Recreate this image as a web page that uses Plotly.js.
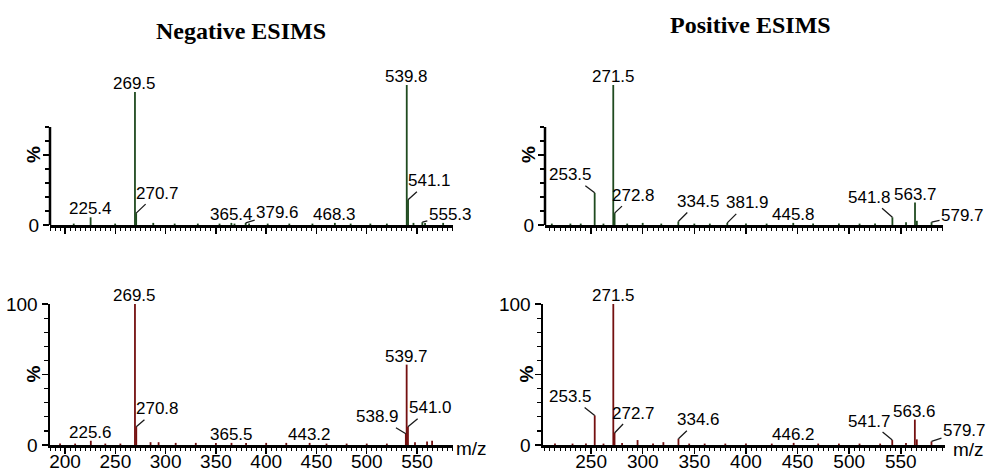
<!DOCTYPE html>
<html>
<head>
<meta charset="utf-8">
<script src="https://cdn.plot.ly/plotly-3.0.1.min.js"></script>
<style>html,body{margin:0;padding:0;background:#fff;}#chart{width:988px;height:473px;}</style>
</head>
<body>
<div id="chart"></div>
<script>
// ---------- DATA (m/z, relative intensity %) ----------
// Negative ESIMS, upper trace (green)
const negTopMz  = [208.6, 225.4, 249.8, 269.5, 270.7, 287.7, 309.0, 332.0, 353.6, 365.4, 368.5, 379.6, 383.0, 401.5, 423.0, 446.0, 468.3, 484.0, 503.6, 520.0, 539.8, 541.1, 546.5, 555.3, 558.0, 576.0];
const negTopInt = [1.0, 5.5, 1.0, 95, 8.5, 1.5, 1.0, 1.0, 1.0, 1.5, 1.0, 1.5, 1.0, 1.0, 1.0, 1.0, 1.5, 1.0, 1.0, 1.0, 100, 18, 1.5, 2.0, 1.5, 1.5];
const negTopLabels = [225.4, 269.5, 270.7, 365.4, 379.6, 468.3, 539.8, 541.1, 555.3];

// Positive ESIMS, upper trace (green)
const posTopMz  = [212, 230, 240, 253.5, 262, 271.5, 272.8, 285, 300, 318, 334.5, 350, 365, 381.9, 400, 420, 445.8, 465, 490, 510, 525, 541.8, 555, 563.7, 565.5, 579.7];
const posTopInt = [1.0, 1.0, 1.0, 23, 1.0, 100, 8.5, 1.0, 1.5, 1.0, 2.5, 1.0, 1.0, 1.5, 1.0, 1.0, 1.5, 1.0, 1.0, 1.0, 1.0, 5.5, 2.0, 16, 3.0, 2.0];
const posTopLabels = [253.5, 271.5, 272.8, 334.5, 381.9, 445.8, 541.8, 563.7, 579.7];

// Negative ESIMS, lower trace (red)
const negBotMz  = [195, 210, 225.6, 240, 255, 269.5, 270.8, 285, 293, 310, 330, 350, 365.5, 380, 400, 420, 443.2, 460, 480, 500, 520, 538.9, 539.7, 541.0, 548, 560, 565];
const negBotInt = [1.0, 1.0, 3.0, 1.0, 1.0, 100, 13, 2.0, 2.0, 1.5, 1.5, 1.5, 1.5, 1.5, 1.5, 1.5, 1.5, 1.0, 1.0, 1.0, 1.0, 8.0, 57, 13, 2.0, 2.5, 3.0];
const negBotLabels = [225.6, 269.5, 270.8, 365.5, 443.2, 538.9, 539.7, 541.0];

// Positive ESIMS, lower trace (red)
const posBotMz  = [215, 232, 245, 253.5, 262, 271.5, 272.7, 280, 295, 310, 320, 334.6, 345, 360, 380, 400, 425, 446.2, 470, 490, 510, 530, 541.7, 555, 563.6, 565.5, 579.7];
const posBotInt = [1.0, 1.0, 1.0, 21, 1.0, 100, 8.5, 1.5, 3.5, 1.0, 2.0, 4.5, 1.0, 1.0, 1.0, 1.0, 1.0, 1.5, 1.0, 1.0, 1.0, 1.0, 3.5, 1.5, 18, 4.0, 2.5];
const posBotLabels = [253.5, 271.5, 272.7, 334.6, 446.2, 541.7, 563.6, 579.7];

const xTickStep = 50;
const panelTitles = ["Negative ESIMS", "Positive ESIMS"];
const xAxisTitle = "m/z";
const yAxisTitle = "%";

// ---------- STYLE / PLACEMENT ----------
const W = 988, H = 473;
const fx = p => p / W;
const fy = p => (H - p) / H;
const GREEN = "#1f4a1f", RED = "#741010";
const LBL_FONT = {family: "Liberation Sans, Arial, sans-serif", size: 17, color: "#000"};
const TICK_FONT = {family: "Liberation Sans, Arial, sans-serif", size: 19, color: "#000"};

// label leader offsets in pixels (text centre relative to arrow tip); absent => label directly above the peak
const leaderOffsets = {
  nt: {"270.7": [21, -20], "379.6": [32, -10], "541.1": [21, -19], "555.3": [28, -8]},
  pt: {"253.5": [-24, -18], "272.8": [19, -18], "334.5": [20, -20], "381.9": [20, -20], "541.8": [-23, -20], "579.7": [31, -7]},
  nb: {"270.8": [21, -18], "538.9": [-28, -17], "541.0": [23, -19]},
  pb: {"253.5": [-24, -19], "272.7": [19, -20], "334.6": [20, -19], "541.7": [-23, -19], "579.7": [33, -11]}
};

function sticks(mz, inten) {
  const x = [], y = [];
  mz.forEach((m, i) => { x.push(m, m, null); y.push(0, inten[i], null); });
  return {x, y};
}

const panels = [
  {key: "nt", mz: negTopMz, it: negTopInt, labels: negTopLabels, color: GREEN, xa: "x3", ya: "y3"},
  {key: "pt", mz: posTopMz, it: posTopInt, labels: posTopLabels, color: GREEN, xa: "x4", ya: "y4"},
  {key: "nb", mz: negBotMz, it: negBotInt, labels: negBotLabels, color: RED, xa: "x", ya: "y"},
  {key: "pb", mz: posBotMz, it: posBotInt, labels: posBotLabels, color: RED, xa: "x2", ya: "y2"}
];

const traces = [];
const annotations = [];
panels.forEach(p => {
  const s = sticks(p.mz, p.it);
  traces.push({type: "scatter", mode: "lines", x: s.x, y: s.y, xaxis: p.xa, yaxis: p.ya,
    line: {color: p.color, width: 1.8}, hoverinfo: "skip", showlegend: false, connectgaps: false});
  p.labels.forEach(m => {
    const idx = p.mz.indexOf(m);
    const yv = p.it[idx];
    const txt = m.toFixed(1);
    const off = leaderOffsets[p.key][txt];
    if (off) {
      annotations.push({x: m, y: yv, xref: p.xa, yref: p.ya, text: txt, font: LBL_FONT,
        showarrow: true, arrowhead: 0, arrowwidth: 1.3, arrowcolor: "#1a1a1a",
        ax: off[0], ay: off[1], standoff: 0, startstandoff: 0});
    } else {
      annotations.push({x: m, y: yv, xref: p.xa, yref: p.ya, text: txt, font: LBL_FONT,
        showarrow: false, yanchor: "bottom", xanchor: "center", yshift: -3});
    }
  });
  annotations.push({x: 0, y: 50, xref: p.xa + " domain", yref: p.ya, text: "<b>" + yAxisTitle + "</b>",
    textangle: -90, showarrow: false, xanchor: "center", yanchor: "middle", xshift: -17,
    font: {family: "Liberation Sans, Arial, sans-serif", size: 19, color: "#000"}});
});

annotations.push({x: fx(241), y: fy(31), xref: "paper", yref: "paper", text: "<b>" + panelTitles[0] + "</b>",
  showarrow: false, xanchor: "center", yanchor: "middle",
  font: {family: "Liberation Serif, Times New Roman, serif", size: 24, color: "#000"}});
annotations.push({x: fx(750), y: fy(25), xref: "paper", yref: "paper", text: "<b>" + panelTitles[1] + "</b>",
  showarrow: false, xanchor: "center", yanchor: "middle",
  font: {family: "Liberation Serif, Times New Roman, serif", size: 24, color: "#000"}});
annotations.push({x: fx(471), y: fy(448), xref: "paper", yref: "paper", text: xAxisTitle,
  showarrow: false, xanchor: "center", yanchor: "middle", font: TICK_FONT});
annotations.push({x: fx(968), y: fy(449), xref: "paper", yref: "paper", text: xAxisTitle,
  showarrow: false, xanchor: "center", yanchor: "middle", font: TICK_FONT});

function xAxis(domain, range, anchor, labels) {
  return {domain: domain, range: range, anchor: anchor, showline: true, linewidth: 2.5, linecolor: "#000",
    ticks: "outside", ticklen: 6, tickwidth: 1.5, tickcolor: "#000", tickmode: "linear", tick0: 200, dtick: xTickStep,
    minor: {dtick: 5, tick0: 200, ticks: "outside", ticklen: 3.5, tickwidth: 1, tickcolor: "#000", showgrid: false},
    showgrid: false, zeroline: false, showticklabels: labels, tickfont: TICK_FONT, ticklabelstandoff: -8, fixedrange: true};
}
function yAxis(domain, anchor, top) {
  const major = top ? [0, 50] : [0, 50, 100];
  const text = top ? ["0", ""] : ["0", "", "100"];
  const minor = top ? [10, 20, 30, 40, 60, 70] : [10, 20, 30, 40, 60, 70, 80, 90];
  return {domain: domain, range: [0, 100], anchor: anchor, showline: !top, linewidth: 2.5, linecolor: "#000",
    ticks: "outside", ticklen: 6, tickwidth: 1.5, tickcolor: "#000", tickmode: "array", tickvals: major, ticktext: text,
    minor: {tickmode: "array", tickvals: minor, ticks: "outside", ticklen: 4, tickwidth: 1.2, tickcolor: "#000", showgrid: false},
    showgrid: false, zeroline: false, tickfont: TICK_FONT, fixedrange: true};
}

const layout = {
  width: W, height: H, margin: {l: 0, r: 0, t: 0, b: 0}, paper_bgcolor: "#fff", plot_bgcolor: "rgba(0,0,0,0)",
  showlegend: false,
  xaxis:  xAxis([fx(50), fx(453)], [185, 585.8], "y", true),
  yaxis:  yAxis([fy(445), fy(304)], "x", false),
  xaxis2: xAxis([fx(543), fx(945)], [203.4, 592.8], "y2", true),
  yaxis2: yAxis([fy(445), fy(304)], "x2", false),
  xaxis3: xAxis([fx(50), fx(453)], [185, 585.8], "y3", false),
  yaxis3: yAxis([fy(225), fy(85)], "x3", true),
  xaxis4: xAxis([fx(545), fx(943)], [205.4, 590.8], "y4", false),
  yaxis4: yAxis([fy(225), fy(85)], "x4", true),
  shapes: [
    {type: "line", xref: "x3 domain", yref: "y3", x0: 0, x1: 0, y0: 0, y1: 70, line: {color: "#000", width: 2.5}},
    {type: "line", xref: "x4 domain", yref: "y4", x0: 0, x1: 0, y0: 0, y1: 70, line: {color: "#000", width: 2.5}}
  ],
  annotations: annotations
};

Plotly.newPlot("chart", traces, layout, {displayModeBar: false, staticPlot: true});
</script>
</body>
</html>
